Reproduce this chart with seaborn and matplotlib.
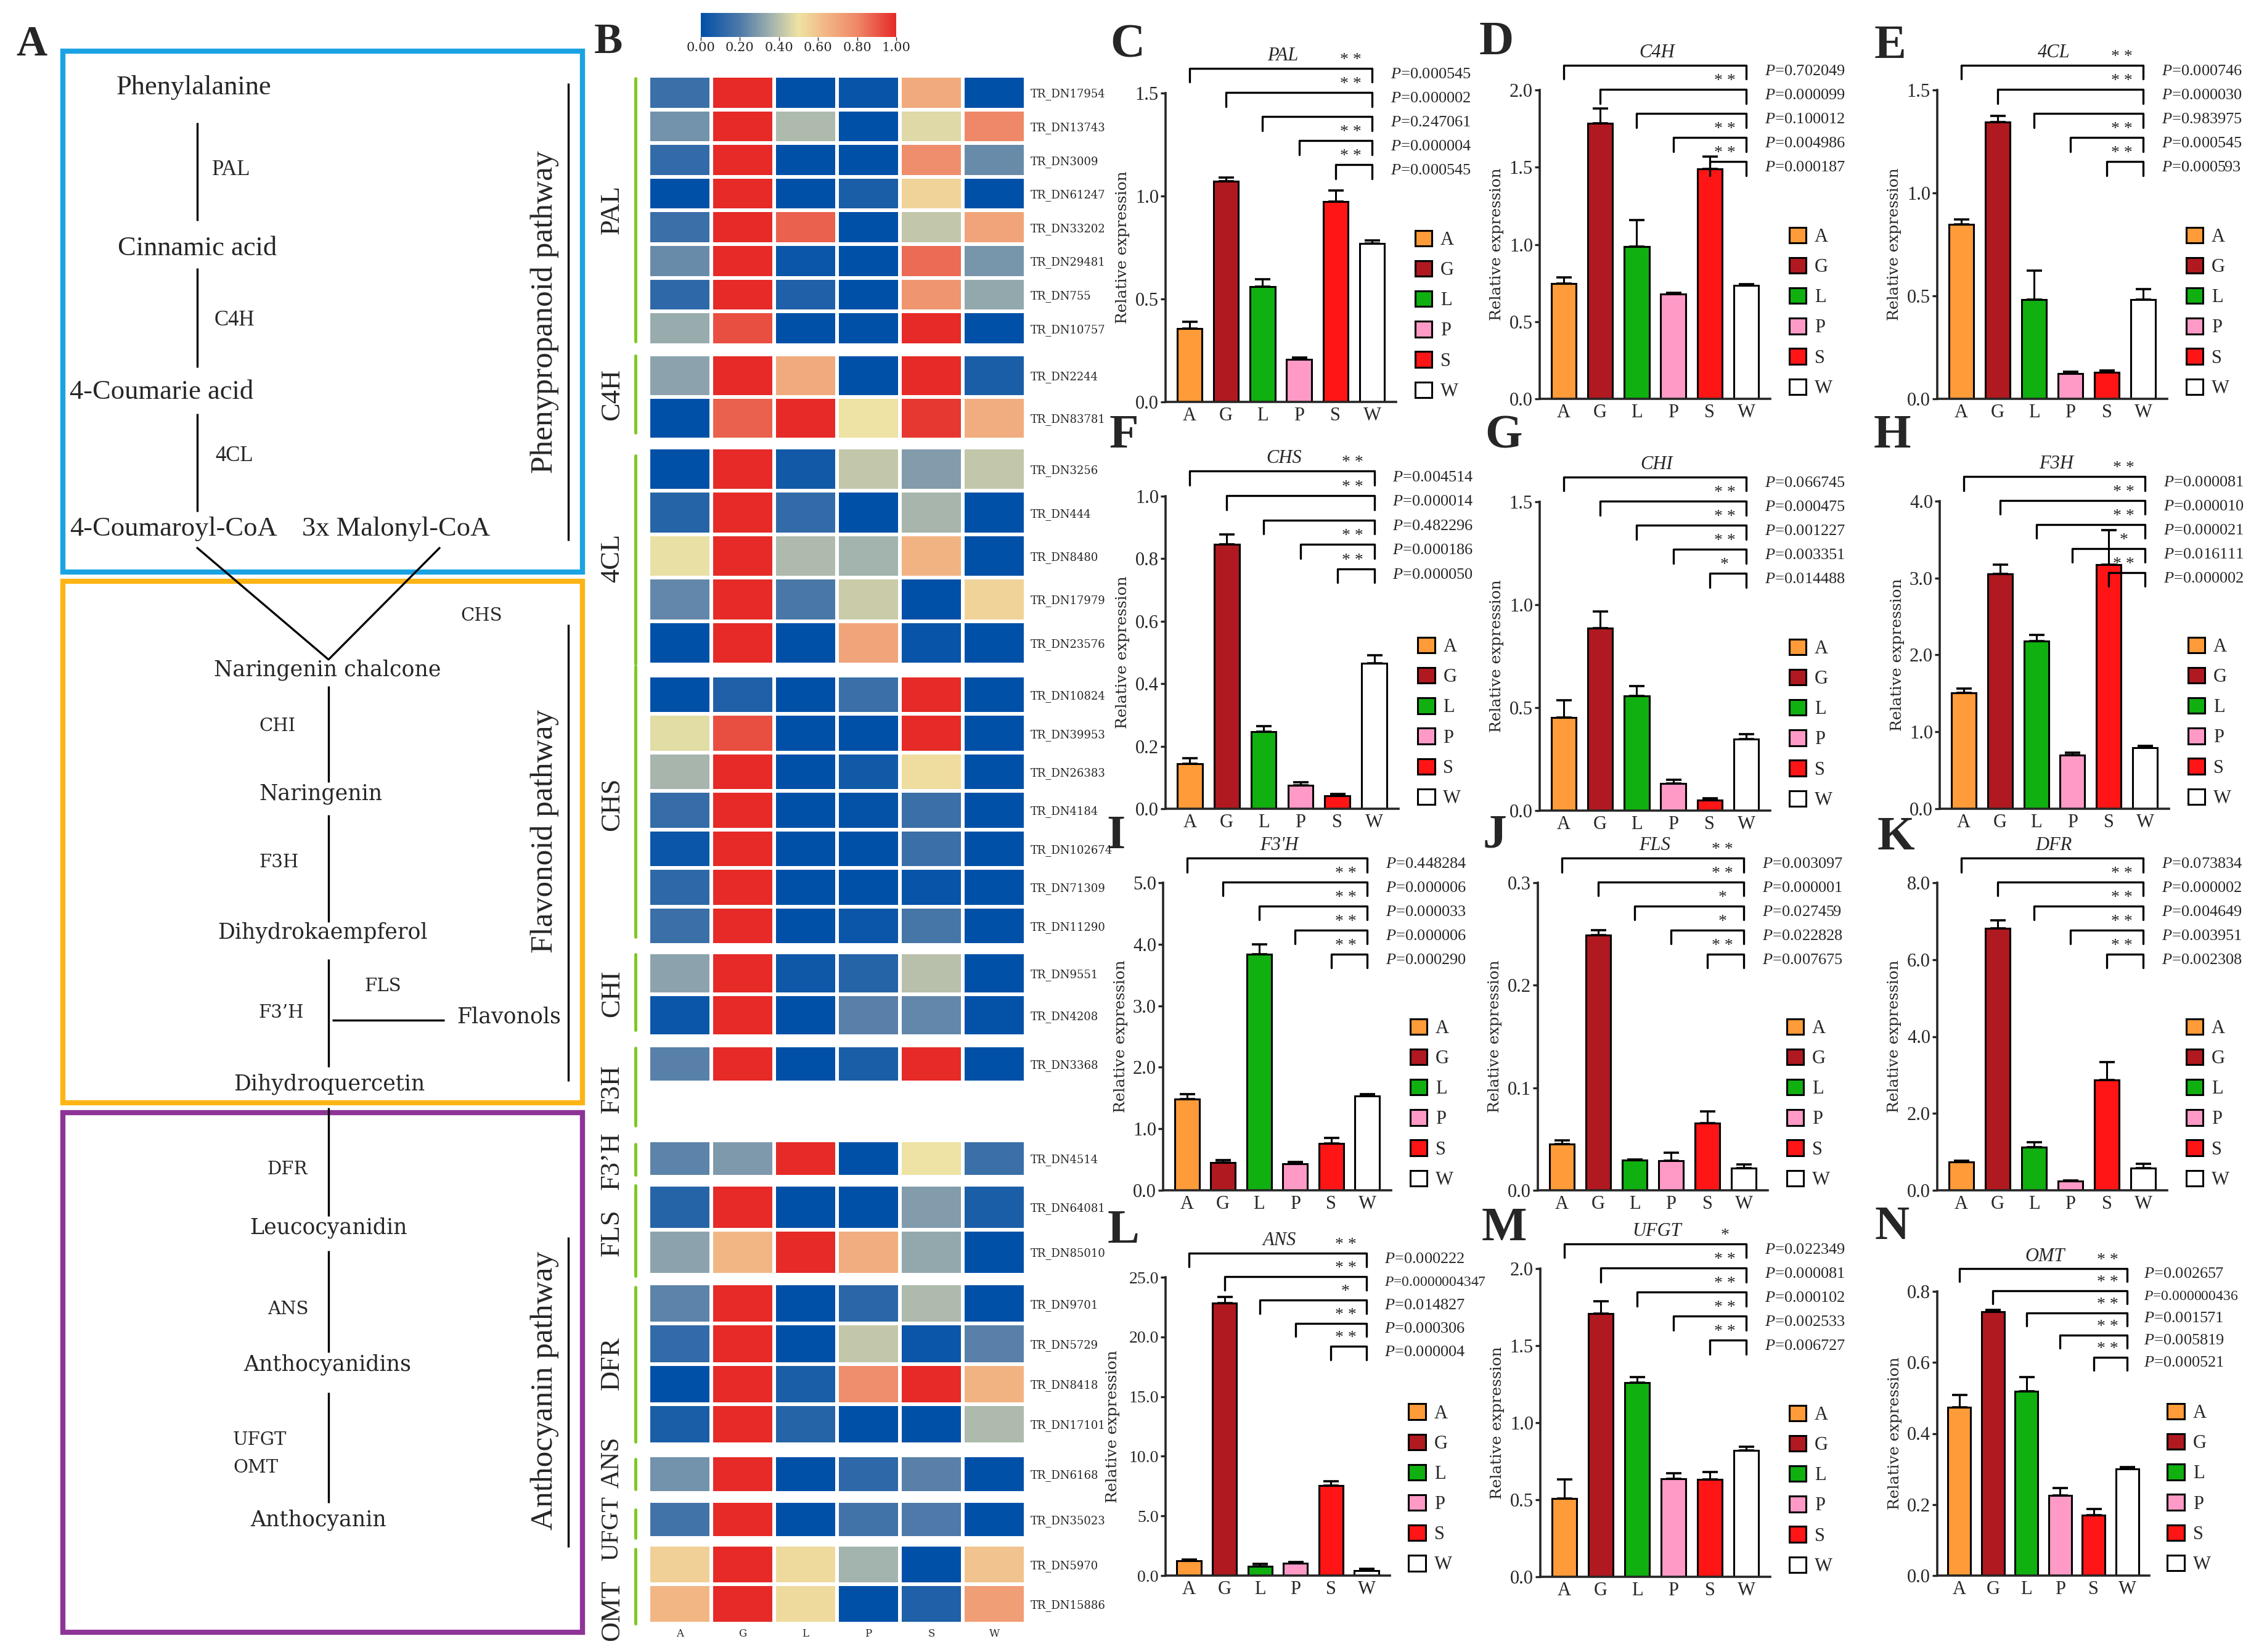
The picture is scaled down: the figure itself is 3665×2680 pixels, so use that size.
import numpy as np
import pandas as pd
import matplotlib
matplotlib.use("Agg")
import matplotlib.pyplot as plt
import seaborn as sns
from matplotlib.colors import LinearSegmentedColormap, Normalize
from matplotlib.patches import Patch, Rectangle
from matplotlib.cm import ScalarMappable

sns.set_style("ticks")
plt.rcParams["font.family"] = ["Liberation Serif", "DejaVu Serif"]
plt.rcParams["mathtext.fontset"] = "custom"
plt.rcParams["mathtext.it"] = "Liberation Serif:italic"
plt.rcParams["mathtext.rm"] = "Liberation Serif"

W, H = 3666, 2680

# ---------------- data ----------------
tissues = ["A", "G", "L", "P", "S", "W"]
tissue_colors = ["#FF9B38", "#B0191F", "#10B010", "#FF9AC6", "#FF1515", "#FFFFFF"]

# heatmap (normalised FPKM, 0-1), rows = transcripts, cols = tissues
pal_ids = ["TR_DN17954", "TR_DN13743", "TR_DN3009", "TR_DN61247",
           "TR_DN33202", "TR_DN29481", "TR_DN755", "TR_DN10757"]
pal_heat = [[0.15, 1.00, 0.00, 0.02, 0.68, 0.00],
            [0.27, 1.00, 0.38, 0.00, 0.47, 0.80],
            [0.13, 1.00, 0.00, 0.00, 0.78, 0.25],
            [0.00, 1.00, 0.00, 0.07, 0.55, 0.00],
            [0.15, 1.00, 0.88, 0.00, 0.42, 0.70],
            [0.25, 1.00, 0.03, 0.00, 0.86, 0.28],
            [0.12, 1.00, 0.08, 0.00, 0.75, 0.33],
            [0.34, 0.92, 0.00, 0.00, 1.00, 0.00]]
c4h_ids = ["TR_DN2244", "TR_DN83781"]
c4h_heat = [[0.32, 1.00, 0.68, 0.00, 1.00, 0.07],
            [0.00, 0.88, 1.00, 0.50, 0.97, 0.67]]
cl4_ids = ["TR_DN3256", "TR_DN444", "TR_DN8480", "TR_DN17979", "TR_DN23576"]
cl4_heat = [[0.00, 1.00, 0.05, 0.42, 0.30, 0.42],
            [0.10, 1.00, 0.13, 0.00, 0.37, 0.00],
            [0.49, 1.00, 0.38, 0.36, 0.65, 0.00],
            [0.24, 1.00, 0.19, 0.43, 0.00, 0.55],
            [0.00, 1.00, 0.00, 0.70, 0.02, 0.00]]
chs_ids = ["TR_DN10824", "TR_DN39953", "TR_DN26383", "TR_DN4184",
           "TR_DN102674", "TR_DN71309", "TR_DN11290"]
chs_heat = [[0.00, 0.08, 0.00, 0.15, 1.00, 0.00],
            [0.48, 0.92, 0.00, 0.00, 1.00, 0.00],
            [0.37, 1.00, 0.00, 0.05, 0.52, 0.00],
            [0.14, 1.00, 0.00, 0.01, 0.15, 0.00],
            [0.03, 1.00, 0.00, 0.00, 0.15, 0.00],
            [0.12, 1.00, 0.00, 0.00, 0.02, 0.00],
            [0.15, 1.00, 0.00, 0.03, 0.18, 0.00]]
chi_ids = ["TR_DN9551", "TR_DN4208"]
chi_heat = [[0.32, 1.00, 0.04, 0.10, 0.40, 0.00],
            [0.03, 1.00, 0.00, 0.22, 0.24, 0.01]]
f3h_ids = ["TR_DN3368"]
f3h_heat = [[0.22, 1.00, 0.00, 0.07, 1.00, 0.00]]
f3ph_ids = ["TR_DN4514"]
f3ph_heat = [[0.23, 0.29, 1.00, 0.00, 0.50, 0.15]]
fls_ids = ["TR_DN64081", "TR_DN85010"]
fls_heat = [[0.10, 1.00, 0.00, 0.00, 0.30, 0.07],
            [0.32, 0.64, 1.00, 0.67, 0.33, 0.00]]
dfr_ids = ["TR_DN9701", "TR_DN5729", "TR_DN8418", "TR_DN17101"]
dfr_heat = [[0.23, 1.00, 0.00, 0.11, 0.38, 0.00],
            [0.13, 1.00, 0.00, 0.42, 0.03, 0.22],
            [0.00, 1.00, 0.07, 0.78, 1.00, 0.65],
            [0.07, 1.00, 0.10, 0.00, 0.00, 0.38]]
ans_ids = ["TR_DN6168"]
ans_heat = [[0.27, 1.00, 0.00, 0.12, 0.22, 0.00]]
ufgt_ids = ["TR_DN35023"]
ufgt_heat = [[0.17, 1.00, 0.00, 0.17, 0.20, 0.00]]
omt_ids = ["TR_DN5970", "TR_DN15886"]
omt_heat = [[0.56, 1.00, 0.53, 0.36, 0.00, 0.60],
            [0.64, 1.00, 0.53, 0.00, 0.08, 0.72]]

# qRT-PCR relative expression: mean, sd, p-values (vs W), significance
pal_expr = [0.357, 1.073, 0.561, 0.206, 0.973, 0.770]
pal_err = [0.031, 0.017, 0.034, 0.011, 0.054, 0.013]
pal_p = ["0.000545", "0.000002", "0.247061", "0.000004", "0.000545"]
pal_sig = ["* *", "* *", "", "* *", "* *"]

c4h_expr = [0.748, 1.786, 0.985, 0.677, 1.489, 0.734]
c4h_err = [0.039, 0.096, 0.173, 0.009, 0.078, 0.010]
c4h_p = ["0.702049", "0.000099", "0.100012", "0.004986", "0.000187"]
c4h_sig = ["", "* *", "", "* *", "* *"]

cl4_expr = [0.848, 1.345, 0.483, 0.124, 0.130, 0.483]
cl4_err = [0.023, 0.028, 0.141, 0.007, 0.008, 0.051]
cl4_p = ["0.000746", "0.000030", "0.983975", "0.000545", "0.000593"]
cl4_sig = ["* *", "* *", "", "* *", "* *"]

chs_expr = [0.144, 0.846, 0.246, 0.074, 0.042, 0.465]
chs_err = [0.018, 0.031, 0.018, 0.011, 0.006, 0.027]
chs_p = ["0.004514", "0.000014", "0.482296", "0.000186", "0.000050"]
chs_sig = ["* *", "* *", "", "* *", "* *"]

chi_expr = [0.452, 0.886, 0.557, 0.132, 0.051, 0.346]
chi_err = [0.085, 0.082, 0.047, 0.019, 0.008, 0.024]
chi_p = ["0.066745", "0.000475", "0.001227", "0.003351", "0.014488"]
chi_sig = ["", "* *", "* *", "* *", "*"]

f3h_expr = [1.504, 3.058, 2.181, 0.698, 3.173, 0.795]
f3h_err = [0.061, 0.118, 0.082, 0.032, 0.451, 0.025]
f3h_p = ["0.000081", "0.000010", "0.000021", "0.016111", "0.000002"]
f3h_sig = ["* *", "* *", "* *", "*", "* *"]

f3ph_expr = [1.479, 0.447, 3.838, 0.429, 0.764, 1.533]
f3ph_err = [0.080, 0.044, 0.157, 0.036, 0.089, 0.031]
f3ph_p = ["0.448284", "0.000006", "0.000033", "0.000006", "0.000290"]
f3ph_sig = ["", "* *", "* *", "* *", "* *"]

fls_expr = [0.0448, 0.2488, 0.0292, 0.0287, 0.0654, 0.0217]
fls_err = [0.0040, 0.0052, 0.0006, 0.0080, 0.0118, 0.0035]
fls_p = ["0.003097", "0.000001", "0.027459", "0.022828", "0.007675"]
fls_sig = ["* *", "* *", "*", "*", "* *"]

dfr_expr = [0.736, 6.81, 1.122, 0.243, 2.866, 0.579]
dfr_err = [0.036, 0.21, 0.122, 0.021, 0.472, 0.107]
dfr_p = ["0.073834", "0.000002", "0.004649", "0.003951", "0.002308"]
dfr_sig = ["", "* *", "* *", "* *", "* *"]

ans_expr = [1.25, 22.81, 0.77, 1.01, 7.55, 0.41]
ans_err = [0.10, 0.56, 0.19, 0.14, 0.36, 0.14]
ans_p = ["0.000222", "0.0000004347", "0.014827", "0.000306", "0.000004"]
ans_sig = ["* *", "* *", "*", "* *", "* *"]

ufgt_expr = [0.51, 1.71, 1.261, 0.636, 0.631, 0.820]
ufgt_err = [0.123, 0.078, 0.036, 0.037, 0.050, 0.023]
ufgt_p = ["0.022349", "0.000081", "0.000102", "0.002533", "0.006727"]
ufgt_sig = ["*", "* *", "* *", "* *", "* *"]

omt_expr = [0.473, 0.743, 0.519, 0.226, 0.170, 0.301]
omt_err = [0.036, 0.005, 0.040, 0.020, 0.017, 0.004]
omt_p = ["0.002657", "0.000000436", "0.001571", "0.005819", "0.000521"]
omt_sig = ["* *", "* *", "* *", "* *", "* *"]

y_max = [1.5, 2.0, 1.5, 1.0, 1.5, 4.0, 5.0, 0.3, 8.0, 25.0, 2.0, 0.8]
y_step = [0.5, 0.5, 0.5, 0.2, 0.5, 1.0, 1.0, 0.1, 2.0, 5.0, 0.5, 0.2]

# ---------------- layout (pixels) ----------------
heat_left, heat_right = 1052, 1664
heat_rows_px = [(123, 560), (575, 713), (726, 1078), (1096, 1533), (1545, 1681), (1696, 1756),
                (1850, 1909), (1922, 2068), (2082, 2343), (2361, 2422), (2435, 2495), (2506, 2634)]
green_px = [(127, 554), (577, 702), (739, 1077), (1081, 1520), (1548, 1671), (1700, 1826),
            (1856, 1906), (1923, 2070), (2088, 2339), (2367, 2416), (2449, 2495), (2513, 2634)]
group_label_y = [340, 640, 905, 1305, 1612, 1766, 1883, 2000, 2212, 2372, 2480, 2612]
group_label_size = [32, 32, 32, 32, 32, 32, 32, 32, 32, 30, 29, 32]

bar_x_px = [[(1891, 2265), (2498, 2872), (3143, 3516)],
            [(1891, 2269), (2498, 2872), (3147, 3519)],
            [(1887, 2257), (2495, 2868), (3143, 3516)],
            [(1891, 2255), (2499, 2872), (3143, 3487)]]
bar_y_px = [[(151, 652), (146, 647), (146, 647)],
            [(805, 1312), (814, 1315), (813, 1312)],
            [(1432, 1931), (1432, 1931), (1432, 1931)],
            [(2072, 2556), (2058, 2558), (2095, 2556)]]
letter_px = [(1829, 74), (2428, 69), (3067, 76), (1823, 708), (2440, 708), (3070, 708),
             (1811, 1358), (2425, 1356), (3076, 1360), (1823, 1997), (2440, 1994), (3070, 1992)]
ylabel_offset = [-0.185] * 9 + [-0.235, -0.185, -0.2]


def px_axes(fig, x0, y0, x1, y1):
    return fig.add_axes([x0 / W, 1 - y1 / H, (x1 - x0) / W, (y1 - y0) / H])


fig = plt.figure(figsize=(W / 100, H / 100), dpi=100)
fig.patch.set_facecolor("white")

# overlay for panel A schematic and heatmap decorations
ov = fig.add_axes([0, 0, 1, 1])
ov.set_xlim(0, W)
ov.set_ylim(H, 0)
ov.axis("off")

ov.text(51, 73, "A", fontsize=50, fontweight="bold", ha="center", va="center")
ov.text(987, 69, "B", fontsize=50, fontweight="bold", ha="center", va="center")

for (y0, y1), col in zip([(83, 928), (943, 1789), (1805, 2648)], ["#1AA3E3", "#FDB515", "#8E3496"]):
    ov.add_patch(Rectangle((102, y0), 843, y1 - y0, fill=False, edgecolor=col, lw=6))

lk = dict(color="black", lw=2.4, solid_capstyle="butt")
for y0, y1 in [(199, 358), (435, 596), (671, 830)]:
    ov.plot([320, 320], [y0, y1], **lk)
ov.plot([319, 533, 714], [888, 1070, 888], **lk)
for y0, y1 in [(1113, 1269), (1322, 1496), (1556, 1731), (1797, 1973), (2029, 2194), (2259, 2438)]:
    ov.plot([533, 533], [y0, y1], **lk)
ov.plot([539, 721], [1655, 1655], **lk)
for y0, y1 in [(135, 877), (1013, 1754), (2007, 2510)]:
    ov.plot([922, 922], [y0, y1], **lk)

up = dict(fontsize=32, va="center")
ov.text(314, 142, "Phenylalanine", ha="center", **up)
ov.text(320, 403, "Cinnamic acid", ha="center", **up)
ov.text(113, 636, "4-Coumarie acid", ha="left", **up)
ov.text(113, 858, "4-Coumaroyl-CoA", ha="left", **up)
ov.text(490, 858, "3x Malonyl-CoA", ha="left", **up)
for x, y, t in [(344, 276, "PAL"), (348, 519, "C4H"), (349, 739, "4CL")]:
    ov.text(x, y, t, fontsize=25, ha="left", va="center")

low = dict(fontsize=25, family="DejaVu Serif", ha="center", va="center")
for x, y, t in [(531, 1087, "Naringenin chalcone"), (520, 1288, "Naringenin"),
                (523, 1513, "Dihydrokaempferol"), (826, 1649, "Flavonols"),
                (534, 1759, "Dihydroquercetin"), (533, 1992, "Leucocyanidin"),
                (531, 2214, "Anthocyanidins"), (517, 2466, "Anthocyanin")]:
    ov.text(x, y, t, **low)
enz = dict(fontsize=21, family="DejaVu Serif", ha="center", va="center")
for x, y, t in [(781, 999, "CHS"), (450, 1178, "CHI"), (453, 1399, "F3H"), (621, 1600, "FLS"),
                (456, 1643, "F3’H"), (466, 1897, "DFR"), (467, 2124, "ANS")]:
    ov.text(x, y, t, **enz)
ov.text(378, 2336, "UFGT", fontsize=21, family="DejaVu Serif", ha="left", va="center")
ov.text(378, 2381, "OMT", fontsize=21, family="DejaVu Serif", ha="left", va="center")

for y, t in [(506, "Phenypropanoid pathway"), (1348, "Flavonoid pathway"), (2256, "Anthocyanin pathway")]:
    ov.text(884, y, t, fontsize=37, rotation=90, ha="center", va="center")

# ---------------- panel B: heatmap ----------------
heat_cmap = LinearSegmentedColormap.from_list(
    "fpkm", [(0.0, "#0050A8"), (0.2, "#4E79A8"), (0.35, "#9DAFAE"), (0.5, "#EEE3A4"),
             (0.65, "#F2B383"), (0.8, "#EE8868"), (1.0, "#E52A27")])

heat_groups = [("PAL", pal_ids, pal_heat), ("C4H", c4h_ids, c4h_heat), ("4CL", cl4_ids, cl4_heat),
               ("CHS", chs_ids, chs_heat), ("CHI", chi_ids, chi_heat), ("F3H", f3h_ids, f3h_heat),
               ("F3’H", f3ph_ids, f3ph_heat), ("FLS", fls_ids, fls_heat), ("DFR", dfr_ids, dfr_heat),
               ("ANS", ans_ids, ans_heat), ("UFGT", ufgt_ids, ufgt_heat), ("OMT", omt_ids, omt_heat)]

for k, (name, ids, vals) in enumerate(heat_groups):
    y0, y1 = heat_rows_px[k]
    ax = px_axes(fig, heat_left, y0, heat_right, y1)
    frame = pd.DataFrame(vals, index=ids, columns=tissues)
    last = k == len(heat_groups) - 1
    sns.heatmap(frame, ax=ax, cmap=heat_cmap, vmin=0, vmax=1, cbar=False,
                linewidths=3, linecolor="white", xticklabels=last, yticklabels=True)
    ax.yaxis.tick_right()
    ax.set_yticklabels(ids, rotation=0, fontsize=13, family="DejaVu Serif")
    ax.tick_params(length=0, pad=6)
    ax.set_xlabel("")
    ax.set_ylabel("")
    if last:
        ax.set_xticklabels(tissues, rotation=0, fontsize=12, family="DejaVu Serif")
    g0, g1 = green_px[k]
    ov.plot([1031, 1031], [g0, g1], color="#7DC81E", lw=3.5)
    ov.text(993, group_label_y[k], name, fontsize=group_label_size[k], rotation=90,
            ha="center", va="center")

cax = px_axes(fig, 1137, 21, 1454, 60)
cb = fig.colorbar(ScalarMappable(norm=Normalize(0, 1), cmap=heat_cmap), cax=cax, orientation="horizontal")
cb.set_ticks([0, 0.2, 0.4, 0.6, 0.8, 1.0])
cb.ax.set_xticklabels(["0.00", "0.20", "0.40", "0.60", "0.80", "1.00"], fontsize=15, family="DejaVu Serif")
cb.outline.set_visible(False)
cb.ax.tick_params(length=4, width=1, pad=2)

# ---------------- panels C-N: qRT-PCR bars ----------------
bar_panels = [("PAL", pal_expr, pal_err, pal_p, pal_sig), ("C4H", c4h_expr, c4h_err, c4h_p, c4h_sig),
              ("4CL", cl4_expr, cl4_err, cl4_p, cl4_sig), ("CHS", chs_expr, chs_err, chs_p, chs_sig),
              ("CHI", chi_expr, chi_err, chi_p, chi_sig), ("F3H", f3h_expr, f3h_err, f3h_p, f3h_sig),
              ("F3'H", f3ph_expr, f3ph_err, f3ph_p, f3ph_sig), ("FLS", fls_expr, fls_err, fls_p, fls_sig),
              ("DFR", dfr_expr, dfr_err, dfr_p, dfr_sig), ("ANS", ans_expr, ans_err, ans_p, ans_sig),
              ("UFGT", ufgt_expr, ufgt_err, ufgt_p, ufgt_sig), ("OMT", omt_expr, omt_err, omt_p, omt_sig)]
letters = list("CDEFGHIJKLMN")

for k, (gene, expr, err, pvals, sig) in enumerate(bar_panels):
    r, c = divmod(k, 3)
    x0, x1 = bar_x_px[r][c]
    y0, y1 = bar_y_px[r][c]
    ax = px_axes(fig, x0, y0, x1, y1)
    df = pd.DataFrame({"tissue": tissues, "expr": expr})
    sns.barplot(data=df, x="tissue", y="expr", hue="tissue", palette=tissue_colors, legend=False,
                width=0.68, saturation=1, edgecolor="black", linewidth=2.2, errorbar=None, ax=ax)
    ax.errorbar(np.arange(6), expr, yerr=[np.zeros(6), err], fmt="none", ecolor="black",
                elinewidth=2.2, capsize=9, capthick=2.6, zorder=3)
    ax.set_xlim(-0.66, 5.66)
    ax.set_ylim(0, y_max[k])
    ticks = np.arange(0, y_max[k] + y_step[k] / 2, y_step[k])
    ax.set_yticks(ticks)
    ax.set_yticklabels([f"{t:.1f}" for t in ticks], fontsize=22 if y_max[k] < 10 else 20)
    ax.set_xticks(range(6))
    ax.set_xticklabels(tissues, fontsize=22)
    ax.tick_params(axis="y", direction="out", length=6, width=2.4, pad=2)
    ax.tick_params(axis="x", direction="in", length=7, width=2.2, pad=6)
    sns.despine(ax=ax)
    for s in ["left", "bottom"]:
        ax.spines[s].set_linewidth(2.6)
    ax.set_xlabel("")
    ax.set_ylabel("")
    ax.text(ylabel_offset[k], 0.5, "Relative expression", transform=ax.transAxes, rotation=90,
            ha="center", va="center", fontsize=18, family="DejaVu Serif")

    trans = ax.get_xaxis_transform()
    for i in range(5):
        yb = 1.08 - 0.078 * i
        ax.plot([i, i, 5, 5], [yb - 0.045, yb, yb, yb - 0.045], color="black", lw=2.4,
                transform=trans, clip_on=False)
        ptxt = f"$P$={pvals[i]}"
        ax.text(5.5, yb - 0.02, ptxt, transform=trans, fontsize=19 if len(pvals[i]) <= 8 else 17,
                ha="left", va="center")
        if sig[i]:
            ax.text(4.41, yb + 0.002, sig[i], transform=trans, fontsize=20, ha="center", va="bottom")
    ax.text(2.55, 1.08 + 0.012, gene, transform=trans, fontsize=22, style="italic",
            ha="center", va="bottom")

    handles = [Patch(facecolor=col, edgecolor="black", linewidth=2.2, label=t)
               for t, col in zip(tissues, tissue_colors)]
    ax.legend(handles=handles, loc="lower left", bbox_to_anchor=(1.05, -0.02), frameon=False,
              fontsize=22, handlelength=0.9, handleheight=0.9, labelspacing=0.62,
              handletextpad=0.45, borderaxespad=0)

    lx, ly = letter_px[k]
    ov.text(lx, ly, letters[k], fontsize=56, fontweight="bold", ha="center", va="center")

fig.savefig("out.png", dpi=100, facecolor="white")
